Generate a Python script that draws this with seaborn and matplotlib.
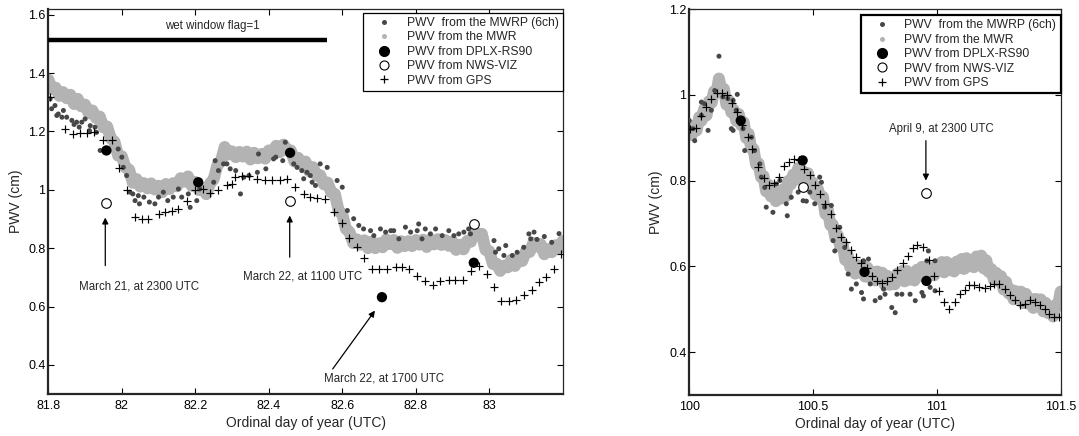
import numpy as np
import pandas as pd
import matplotlib
matplotlib.use("Agg")
import matplotlib.pyplot as plt
from matplotlib.lines import Line2D
from matplotlib.ticker import FuncFormatter
import seaborn as sns

# ---------------- DATA : left panel (March) ----------------
left_mwr_t = np.round(np.arange(81.80, 83.2001, 0.01), 3)
left_mwr = [1.378, 1.346, 1.350, 1.322, 1.335, 1.314, 1.326, 1.294, 1.312, 1.286,
            1.292, 1.262, 1.272, 1.246, 1.251, 1.214, 1.217, 1.176, 1.165, 1.117,
            1.115, 1.076, 1.069, 1.024, 1.037, 1.011, 1.023, 1.005, 1.022, 1.001,
            1.014, 0.992, 1.020, 1.003, 1.023, 1.012, 1.040, 1.028, 1.046, 1.014,
            1.027, 0.999, 1.005, 0.985, 1.022, 1.036, 1.084, 1.099, 1.147, 1.121,
            1.132, 1.112, 1.130, 1.114, 1.131, 1.104, 1.127, 1.108, 1.123, 1.107,
            1.135, 1.128, 1.151, 1.129, 1.155, 1.137, 1.135, 1.097, 1.110, 1.086,
            1.097, 1.064, 1.078, 1.049, 1.050, 1.019, 1.025, 0.991, 0.986, 0.929,
            0.917, 0.866, 0.855, 0.817, 0.830, 0.812, 0.827, 0.800, 0.822, 0.800,
            0.817, 0.803, 0.830, 0.814, 0.828, 0.801, 0.824, 0.807, 0.824, 0.807,
            0.828, 0.812, 0.829, 0.804, 0.830, 0.813, 0.831, 0.811, 0.828, 0.808,
            0.823, 0.794, 0.812, 0.796, 0.825, 0.822, 0.855, 0.845, 0.849, 0.794,
            0.790, 0.746, 0.747, 0.722, 0.740, 0.734, 0.760, 0.739, 0.764, 0.756,
            0.790, 0.787, 0.818, 0.806, 0.814, 0.779, 0.797, 0.786, 0.810, 0.799,
            0.825]

left_mwrp_t = [81.805, 81.809, 81.818, 81.823, 81.827, 81.837, 81.841, 81.850, 81.864, 81.870,
               81.877, 81.884, 81.891, 81.900, 81.912, 81.914, 81.927, 81.931, 81.941, 81.990,
               82.000, 82.004, 82.013, 82.022, 82.030, 82.036, 82.045, 82.048, 82.060, 82.075,
               82.090, 82.100, 82.113, 82.125, 82.140, 82.154, 82.163, 82.181, 82.186, 82.204,
               82.212, 82.250, 82.254, 82.263, 82.277, 82.286, 82.295, 82.310, 82.323, 82.332,
               82.346, 82.369, 82.372, 82.392, 82.413, 82.419, 82.438, 82.445, 82.468, 82.477,
               82.490, 82.495, 82.504, 82.513, 82.518, 82.527, 82.540, 82.559, 82.586, 82.600,
               82.614, 82.631, 82.645, 82.658, 82.677, 82.686, 82.704, 82.718, 82.732, 82.740,
               82.754, 82.772, 82.786, 82.804, 82.808, 82.817, 82.826, 82.840, 82.854, 82.872,
               82.890, 82.904, 82.917, 82.931, 82.944, 82.949, 83.013, 83.017, 83.026, 83.040,
               83.045, 83.063, 83.076, 83.094, 83.108, 83.113, 83.122, 83.130, 83.150, 83.170,
               83.190]
left_mwrp = [1.312, 1.278, 1.289, 1.255, 1.260, 1.249, 1.272, 1.249, 1.238, 1.224,
             1.232, 1.215, 1.232, 1.243, 1.203, 1.220, 1.215, 1.197, 1.135, 1.140,
             1.112, 1.077, 1.049, 0.992, 0.986, 0.963, 0.980, 0.952, 0.975, 0.958,
             0.952, 0.975, 0.992, 0.963, 0.975, 1.003, 0.975, 0.986, 0.940, 0.963,
             1.003, 1.026, 1.100, 1.066, 1.089, 1.089, 1.072, 1.066, 0.986, 1.043,
             1.049, 1.060, 1.123, 1.072, 1.106, 1.112, 1.100, 1.163, 1.089, 1.077,
             1.066, 1.038, 1.060, 1.049, 1.026, 1.015, 1.089, 1.077, 1.032, 1.009,
             0.929, 0.901, 0.878, 0.866, 0.860, 0.843, 0.866, 0.855, 0.860, 0.860,
             0.832, 0.872, 0.855, 0.860, 0.883, 0.832, 0.866, 0.849, 0.866, 0.843,
             0.860, 0.843, 0.849, 0.855, 0.866, 0.849, 0.826, 0.786, 0.798, 0.775,
             0.809, 0.775, 0.786, 0.803, 0.849, 0.832, 0.855, 0.830, 0.840, 0.820,
             0.850]

left_gps_t = [81.805, 81.846, 81.866, 81.886, 81.905, 81.923, 81.950, 81.973, 81.991, 82.014,
              82.036, 82.054, 82.072, 82.100, 82.118, 82.136, 82.154, 82.177, 82.200, 82.222,
              82.241, 82.263, 82.286, 82.300, 82.309, 82.327, 82.345, 82.368, 82.390, 82.409,
              82.431, 82.450, 82.472, 82.495, 82.513, 82.531, 82.554, 82.577, 82.598, 82.617,
              82.640, 82.658, 82.681, 82.700, 82.722, 82.745, 82.763, 82.781, 82.804, 82.826,
              82.847, 82.867, 82.890, 82.908, 82.928, 82.951, 82.972, 82.993, 83.013, 83.033,
              83.053, 83.074, 83.096, 83.117, 83.135, 83.155, 83.175, 83.195]
left_gps = [1.317, 1.209, 1.192, 1.194, 1.194, 1.197, 1.171, 1.171, 1.075, 0.998,
            0.906, 0.901, 0.900, 0.918, 0.923, 0.929, 0.935, 0.960, 0.998, 1.003,
            0.988, 1.000, 1.015, 1.020, 1.043, 1.049, 1.046, 1.038, 1.032, 1.032,
            1.034, 1.038, 1.011, 0.986, 0.975, 0.973, 0.969, 0.923, 0.886, 0.835,
            0.803, 0.767, 0.729, 0.729, 0.729, 0.735, 0.737, 0.729, 0.706, 0.687,
            0.674, 0.687, 0.692, 0.692, 0.692, 0.721, 0.740, 0.710, 0.666, 0.620,
            0.620, 0.623, 0.641, 0.657, 0.683, 0.700, 0.730, 0.780]

left_dplx_t = [81.958, 82.208, 82.458, 82.708, 82.958]
left_dplx = [1.135, 1.026, 1.127, 0.632, 0.750]
left_nws_t = [81.958, 82.458, 82.958]
left_nws = [0.954, 0.960, 0.883]

wet_window = [81.80, 82.558]
wet_level = 1.515

# ---------------- DATA : right panel (April) ----------------
right_mwr_t = np.round(np.arange(100.00, 101.5001, 0.01), 3)
right_mwr = [0.922, 0.906, 0.927, 0.917, 0.948, 0.940, 0.967, 0.952, 0.985, 0.981,
             1.008, 1.005, 1.038, 1.008, 1.014, 0.977, 0.987, 0.959, 0.965, 0.939,
             0.955, 0.929, 0.936, 0.899, 0.909, 0.875, 0.873, 0.837, 0.840, 0.808,
             0.811, 0.775, 0.790, 0.763, 0.774, 0.752, 0.772, 0.758, 0.780, 0.763,
             0.799, 0.791, 0.814, 0.802, 0.829, 0.812, 0.822, 0.795, 0.817, 0.789,
             0.795, 0.767, 0.780, 0.756, 0.762, 0.722, 0.732, 0.696, 0.697, 0.667,
             0.673, 0.646, 0.652, 0.615, 0.627, 0.598, 0.605, 0.583, 0.603, 0.586,
             0.602, 0.576, 0.597, 0.574, 0.587, 0.567, 0.588, 0.571, 0.585, 0.557,
             0.578, 0.557, 0.573, 0.558, 0.583, 0.570, 0.589, 0.565, 0.589, 0.569,
             0.584, 0.567, 0.592, 0.579, 0.599, 0.576, 0.601, 0.581, 0.596, 0.579,
             0.603, 0.590, 0.610, 0.586, 0.610, 0.591, 0.605, 0.588, 0.611, 0.597,
             0.617, 0.594, 0.619, 0.600, 0.615, 0.598, 0.623, 0.609, 0.625, 0.595,
             0.614, 0.587, 0.594, 0.569, 0.585, 0.565, 0.577, 0.546, 0.564, 0.537,
             0.546, 0.523, 0.542, 0.525, 0.541, 0.514, 0.536, 0.513, 0.524, 0.503,
             0.524, 0.508, 0.523, 0.495, 0.515, 0.491, 0.503, 0.483, 0.510, 0.508,
             0.541]

right_mwrp_t = [100.000, 100.015, 100.022, 100.049, 100.049, 100.062, 100.076, 100.089, 100.103, 100.120,
                100.136, 100.156, 100.170, 100.177, 100.177, 100.190, 100.194, 100.217, 100.224, 100.251,
                100.264, 100.285, 100.291, 100.305, 100.311, 100.338, 100.352, 100.366, 100.392, 100.396,
                100.412, 100.440, 100.460, 100.473, 100.487, 100.507, 100.527, 100.534, 100.547, 100.574,
                100.581, 100.588, 100.608, 100.628, 100.642, 100.655, 100.675, 100.696, 100.704, 100.704,
                100.724, 100.731, 100.751, 100.771, 100.785, 100.791, 100.818, 100.832, 100.839, 100.859,
                100.892, 100.913, 100.940, 100.946, 100.960, 100.966, 100.973, 100.993, 100.993]
right_mwrp = [0.940, 0.921, 0.893, 0.983, 0.952, 0.979, 0.917, 0.964, 1.010, 1.090,
              0.995, 0.991, 0.921, 0.987, 0.917, 0.964, 1.001, 0.921, 0.870, 0.901,
              0.870, 0.839, 0.808, 0.784, 0.738, 0.726, 0.792, 0.800, 0.746, 0.718,
              0.761, 0.773, 0.753, 0.752, 0.773, 0.746, 0.808, 0.796, 0.738, 0.742,
              0.660, 0.636, 0.691, 0.644, 0.582, 0.547, 0.559, 0.539, 0.613, 0.524,
              0.617, 0.559, 0.520, 0.527, 0.547, 0.535, 0.504, 0.492, 0.535, 0.535,
              0.535, 0.520, 0.539, 0.531, 0.613, 0.636, 0.551, 0.613, 0.543]

right_gps_t = [100.002, 100.028, 100.049, 100.069, 100.089, 100.113, 100.133, 100.154, 100.174, 100.194,
               100.214, 100.237, 100.255, 100.278, 100.301, 100.322, 100.343, 100.363, 100.383, 100.403,
               100.423, 100.444, 100.464, 100.487, 100.507, 100.529, 100.549, 100.572, 100.592, 100.612,
               100.635, 100.655, 100.673, 100.695, 100.717, 100.738, 100.758, 100.778, 100.798, 100.821,
               100.841, 100.863, 100.883, 100.903, 100.922, 100.944, 100.967, 100.987, 101.008, 101.031,
               101.051, 101.074, 101.092, 101.112, 101.132, 101.152, 101.172, 101.193, 101.213, 101.233,
               101.253, 101.274, 101.297, 101.317, 101.337, 101.357, 101.378, 101.398, 101.418, 101.438,
               101.452, 101.472, 101.492]
right_gps = [0.921, 0.923, 0.950, 0.971, 0.991, 1.005, 1.005, 1.000, 0.982, 0.960,
             0.929, 0.901, 0.874, 0.831, 0.806, 0.790, 0.794, 0.809, 0.833, 0.843,
             0.851, 0.848, 0.827, 0.812, 0.790, 0.769, 0.746, 0.721, 0.689, 0.668,
             0.656, 0.638, 0.621, 0.607, 0.595, 0.578, 0.565, 0.562, 0.566, 0.576,
             0.591, 0.607, 0.625, 0.643, 0.650, 0.646, 0.615, 0.578, 0.543, 0.516,
             0.500, 0.516, 0.535, 0.545, 0.557, 0.557, 0.552, 0.549, 0.555, 0.560,
             0.559, 0.548, 0.533, 0.521, 0.510, 0.513, 0.521, 0.518, 0.510, 0.500,
             0.489, 0.481, 0.481]

right_dplx_t = [100.208, 100.458, 100.708, 100.958]
right_dplx = [0.940, 0.847, 0.587, 0.566]
right_nws_t = [100.458, 100.958]
right_nws = [0.784, 0.771]

legend_labels = ["PWV  from the MWRP (6ch)", "PWV from the MWR", "PWV from DPLX-RS90",
                 "PWV from NWS-VIZ", "PWV from GPS"]

# ---------------- STYLE ----------------
sns.set_style("ticks")
plt.rcParams["font.family"] = ["Liberation Sans", "DejaVu Sans"]
plt.rcParams["axes.linewidth"] = 1.0

C_DARK = "#474747"
C_LIGHT = "#b3b3b3"

fig = plt.figure(figsize=(10.79, 4.36), dpi=100)
axL = fig.add_axes([0.0448, 0.0963, 0.4767, 0.8831])
axR = fig.add_axes([0.6388, 0.0940, 0.3441, 0.8853])


def draw(ax, mwr_t, mwr, mwrp_t, mwrp, gps_t, gps, dplx_t, dplx, nws_t, nws):
    sns.lineplot(x=mwr_t, y=mwr, ax=ax, color=C_LIGHT, lw=8.6, estimator=None,
                 sort=False, legend=False, zorder=1, solid_joinstyle="round",
                 solid_capstyle="round")
    sns.scatterplot(x=mwr_t, y=mwr, ax=ax, color=C_LIGHT, s=46, marker="o",
                    linewidth=0, edgecolor="none", legend=False, zorder=2)
    sns.scatterplot(x=mwrp_t, y=mwrp, ax=ax, color=C_DARK, s=13, marker="o",
                    linewidth=0, edgecolor="none", legend=False, zorder=3)
    sns.scatterplot(x=dplx_t, y=dplx, ax=ax, color="black", s=55, marker="o",
                    linewidth=0, edgecolor="none", legend=False, zorder=5)
    sns.scatterplot(x=nws_t, y=nws, ax=ax, facecolor="white", edgecolor="black",
                    s=48, marker="o", linewidth=0.8, legend=False, zorder=5)
    sns.scatterplot(x=gps_t, y=gps, ax=ax, color="black", s=32, marker="+",
                    linewidth=0.85, legend=False, zorder=4)


draw(axL, left_mwr_t, left_mwr, left_mwrp_t, left_mwrp, left_gps_t, left_gps,
     left_dplx_t, left_dplx, left_nws_t, left_nws)
draw(axR, right_mwr_t, right_mwr, right_mwrp_t, right_mwrp, right_gps_t, right_gps,
     right_dplx_t, right_dplx, right_nws_t, right_nws)

fmt = FuncFormatter(lambda v, p: "%g" % round(v, 3))

axL.set_xlim(81.8, 83.2)
axL.set_ylim(0.3, 1.62)
axL.set_xticks([81.8, 82.0, 82.2, 82.4, 82.6, 82.8, 83.0])
axL.set_yticks([0.4, 0.6, 0.8, 1.0, 1.2, 1.4, 1.6])

axR.set_xlim(100, 101.5)
axR.set_ylim(0.3, 1.2)
axR.set_xticks([100, 100.5, 101, 101.5])
axR.set_yticks([0.4, 0.6, 0.8, 1.0, 1.2])

for ax, lab_x in ((axL, -0.050), (axR, -0.070)):
    ax.xaxis.set_major_formatter(fmt)
    ax.yaxis.set_major_formatter(fmt)
    ax.tick_params(direction="in", length=4, width=0.8, top=True, right=True,
                   labelsize=9, pad=4, colors="black")
    ax.tick_params(axis="y", pad=2)
    for side in ("left", "bottom"):
        ax.spines[side].set_linewidth(1.6)
    for side in ("top", "right"):
        ax.spines[side].set_linewidth(0.9)
        ax.spines[side].set_visible(True)
    ax.set_xlabel("Ordinal day of year (UTC)", fontsize=10, labelpad=3)
    ax.set_ylabel("PWV (cm)", fontsize=10)
    ax.yaxis.set_label_coords(lab_x, 0.5)
    ax.set_facecolor("white")

handles = [
    Line2D([], [], ls="none", marker="o", ms=3.6, mfc=C_DARK, mec="none"),
    Line2D([], [], ls="none", marker="o", ms=3.6, mfc=C_LIGHT, mec="none"),
    Line2D([], [], ls="none", marker="o", ms=7, mfc="black", mec="black"),
    Line2D([], [], ls="none", marker="o", ms=6.5, mfc="white", mec="black", mew=0.8),
    Line2D([], [], ls="none", marker="+", ms=6, color="black", mew=0.9),
]
for ax, top, lw in ((axL, 0.99, 0.9), (axR, 0.984, 1.6)):
    leg = ax.legend(handles, legend_labels, loc="upper right",
                    bbox_to_anchor=(1.0, top), borderaxespad=0, fontsize=8.7,
                    frameon=True, fancybox=False, shadow=False, framealpha=1,
                    edgecolor="black", handlelength=2.8, handletextpad=0.45,
                    labelspacing=0.2, borderpad=0.35)
    leg.get_frame().set_linewidth(lw)
    leg.set_zorder(10)

# wet window bar
axL.plot(wet_window, [wet_level, wet_level], color="black", lw=3.2,
         solid_capstyle="butt", zorder=6)
axL.text(82.245, wet_level + 0.048, "wet window flag=1",
         ha="center", va="center", fontsize=8.3)

# annotations
arrow = dict(arrowstyle="-|>", color="black", lw=0.9, mutation_scale=9,
             shrinkA=0, shrinkB=0)
axL.annotate("", xy=(81.955, 0.905), xytext=(81.955, 0.74), arrowprops=arrow)
axL.text(82.048, 0.668, "March 21, at 2300 UTC", ha="center", va="center", fontsize=8.3)
axL.annotate("", xy=(82.457, 0.912), xytext=(82.457, 0.769), arrowprops=arrow)
axL.text(82.492, 0.703, "March 22, at 1100 UTC", ha="center", va="center", fontsize=8.3)
axL.annotate("", xy=(82.689, 0.586), xytext=(82.574, 0.386), arrowprops=arrow)
axL.text(82.715, 0.352, "March 22, at 1700 UTC", ha="center", va="center", fontsize=8.3)

axR.annotate("", xy=(100.956, 0.80), xytext=(100.956, 0.893), arrowprops=arrow)
axR.text(101.02, 0.92, "April 9, at 2300 UTC", ha="center", va="center", fontsize=8.3)

fig.savefig("out.png", dpi=100, facecolor="white")
